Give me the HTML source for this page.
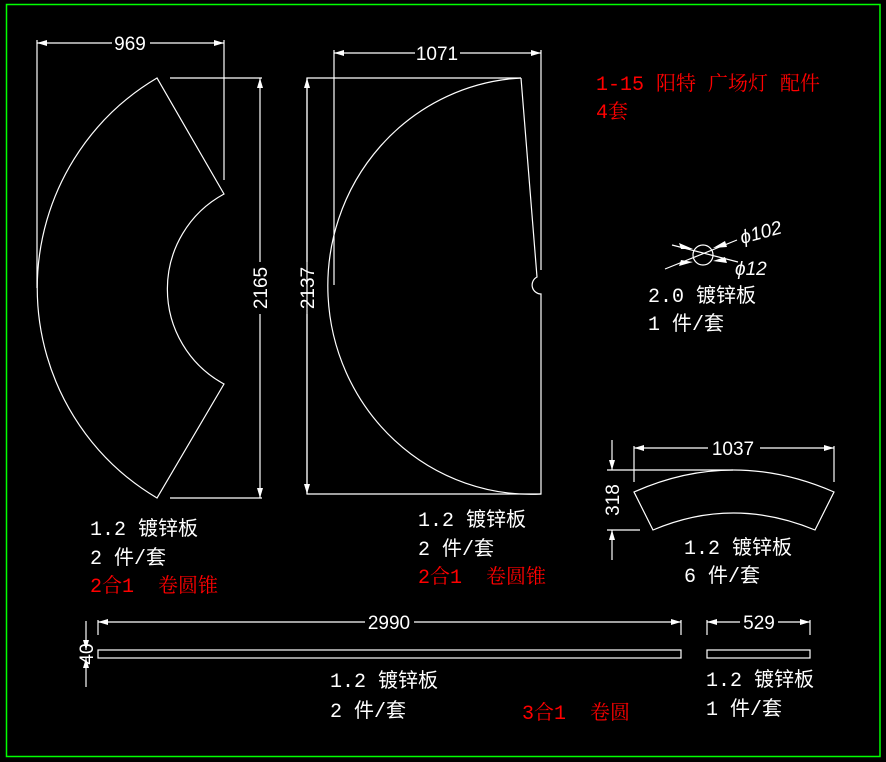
<!DOCTYPE html>
<html><head><meta charset="utf-8"><style>
html,body{margin:0;padding:0;background:#000;}
svg{display:block}
text{white-space:pre}
.t{font-family:"Liberation Mono","Noto Sans CJK SC",monospace;font-size:20px;fill:#fff}
.r{fill:#f00;font-family:"Liberation Mono","Noto Serif CJK SC",monospace;font-size:20px}
.d{font-family:"Liberation Sans",sans-serif;font-size:19px;fill:#fff}
</style></head><body>
<svg width="886" height="762" viewBox="0 0 886 762" xmlns="http://www.w3.org/2000/svg">
<defs>
<marker id="a" viewBox="0 0 10 6" refX="10" refY="3" markerWidth="14" markerHeight="6" markerUnits="userSpaceOnUse" orient="auto-start-reverse"><path d="M0,0L10,3L0,6z" fill="#fff"/></marker>
</defs>
<rect x="6.5" y="4.5" width="873.5" height="752" fill="none" stroke="#0f0" stroke-width="1.5"/>
<g stroke="#fff" stroke-width="1.2" fill="none">
<path d="M157,78 A244,244 0 0 0 157,498 L224,384 A108,108 0 0 1 224,194 Z"/>
<line x1="37" y1="40" x2="37" y2="288"/>
<line x1="224" y1="40" x2="224" y2="180"/>
<line x1="37" y1="43" x2="112" y2="43" marker-start="url(#a)"/>
<line x1="150" y1="43" x2="224" y2="43" marker-end="url(#a)"/>
<line x1="170" y1="78" x2="262" y2="78"/>
<line x1="170" y1="498" x2="262" y2="498"/>
<line x1="260" y1="78" x2="260" y2="262" marker-start="url(#a)"/>
<line x1="260" y1="314" x2="260" y2="498" marker-end="url(#a)"/>
<path d="M521,78 A203,208 0 0 0 541,494"/>
<path d="M521,78 L537,277 A9,9 0 0 0 541,294 L541,494 L307,494 L307,78 L521,78"/>
<line x1="334" y1="50" x2="334" y2="285"/>
<line x1="541" y1="50" x2="541" y2="270"/>
<line x1="334" y1="53" x2="415" y2="53" marker-start="url(#a)"/>
<line x1="460" y1="53" x2="541" y2="53" marker-end="url(#a)"/>
<line x1="307" y1="78" x2="307" y2="262" marker-start="url(#a)"/>
<line x1="307" y1="314" x2="307" y2="494" marker-end="url(#a)"/>
<circle cx="703" cy="255" r="10"/>
<line x1="672" y1="245" x2="738" y2="262"/>
<line x1="665" y1="269" x2="737" y2="240"/>
<path d="M634,492 Q733,448 834,492 L815,530 Q733,496 653,530 Z"/>
<line x1="634" y1="446" x2="634" y2="482"/>
<line x1="834" y1="446" x2="834" y2="482"/>
<line x1="634" y1="448" x2="708" y2="448" marker-start="url(#a)"/>
<line x1="760" y1="448" x2="834" y2="448" marker-end="url(#a)"/>
<line x1="607" y1="470" x2="733" y2="470"/>
<line x1="607" y1="530" x2="640" y2="530"/>
<line x1="612" y1="440" x2="612" y2="470" marker-end="url(#a)"/>
<line x1="612" y1="560" x2="612" y2="530" marker-end="url(#a)"/>
<rect x="98" y="650" width="583" height="8"/>
<line x1="98" y1="620" x2="98" y2="635"/>
<line x1="681" y1="620" x2="681" y2="635"/>
<line x1="98" y1="622" x2="365" y2="622" marker-start="url(#a)"/>
<line x1="414" y1="622" x2="681" y2="622" marker-end="url(#a)"/>
<line x1="86" y1="621" x2="86" y2="650" marker-end="url(#a)"/>
<line x1="86" y1="687" x2="86" y2="658" marker-end="url(#a)"/>
<rect x="707" y="650" width="103" height="8"/>
<line x1="707" y1="620" x2="707" y2="635"/>
<line x1="810" y1="620" x2="810" y2="635"/>
<line x1="707" y1="622" x2="740" y2="622" marker-start="url(#a)"/>
<line x1="778" y1="622" x2="810" y2="622" marker-end="url(#a)"/>
</g>
<g fill="#fff">
<path d="M693,249 l-14,-6 l2,6z M713,261 l14,2 l-2,-6z M693,262 l-14,4 l2,-6z M713,248 l12,-7 l2,6z"/>
</g>
<text class="d" x="130" y="50" text-anchor="middle">969</text>
<text class="d" x="437" y="60" text-anchor="middle">1071</text>
<text class="d" x="733" y="455" text-anchor="middle">1037</text>
<text class="d" x="389" y="629" text-anchor="middle">2990</text>
<text class="d" x="759" y="629" text-anchor="middle">529</text>
<text class="d" transform="translate(267,288) rotate(-90)" text-anchor="middle">2165</text>
<text class="d" transform="translate(314,288) rotate(-90)" text-anchor="middle">2137</text>
<text class="d" transform="translate(619,500) rotate(-90)" text-anchor="middle">318</text>
<text class="d" transform="translate(93,654) rotate(-90)" text-anchor="middle">40</text>
<text class="d" font-style="italic" transform="translate(742,244) rotate(-15)">ϕ102</text>
<text class="d" font-style="italic" x="735" y="275">ϕ12</text>
<text class="t" x="90" y="535">1.2 镀锌板</text>
<text class="t" x="90" y="564">2 件/套</text>
<text class="r" x="90" y="592">2合1  卷圆锥</text>
<text class="t" x="418" y="526">1.2 镀锌板</text>
<text class="t" x="418" y="555">2 件/套</text>
<text class="r" x="418" y="583">2合1  卷圆锥</text>
<text class="r" x="596" y="90">1-15 阳特 广场灯 配件</text>
<text class="r" x="596" y="118">4套</text>
<text class="t" x="648" y="302">2.0 镀锌板</text>
<text class="t" x="648" y="330">1 件/套</text>
<text class="t" x="684" y="554">1.2 镀锌板</text>
<text class="t" x="684" y="582">6 件/套</text>
<text class="t" x="330" y="687">1.2 镀锌板</text>
<text class="t" x="330" y="717">2 件/套</text>
<text class="r" x="522" y="719">3合1  卷圆</text>
<text class="t" x="706" y="686">1.2 镀锌板</text>
<text class="t" x="706" y="715">1 件/套</text>
</svg>
</body></html>
